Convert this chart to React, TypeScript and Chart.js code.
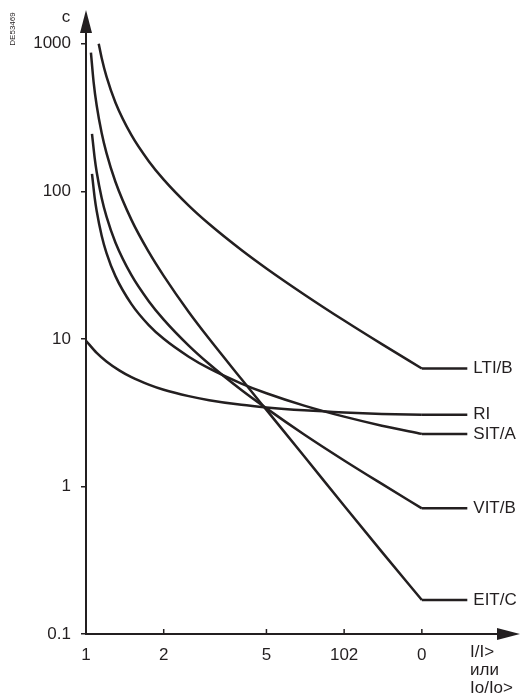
import React, { useEffect, useRef } from "react";
import { Chart, registerables } from "chart.js";

Chart.register(...registerables);

const INK = "#231f20";
const FONT = "'Liberation Sans', Arial, sans-serif";

// Axis ticks
const xTicks = [1, 2, 5, 10, 20];
const xTickLabels = ["1", "2", "5", "102", "0"];
const yTicks = [0.1, 1, 10, 100, 1000];
const yTickLabels = ["0.1", "1", "10", "100", "1000"];
const xMin = 1;
const xMax = 48;
const yMin = 0.1;
const yMax = 1200;

// Curves (I/I> vs time in s)
const curveNames = ["LTI/B", "RI", "SIT/A", "VIT/B", "EIT/C"];

const ltiX = [1.12, 1.15, 1.2, 1.3, 1.5, 1.75, 2, 2.5, 3, 4, 5, 7, 10, 14, 20];
const ltiY = [1000, 800, 600, 400, 240, 160, 120, 80, 60, 40, 30, 20, 13.3, 9.2, 6.3];

const riX = [1, 1.1, 1.2, 1.35, 1.5, 1.75, 2, 2.5, 3, 4, 5, 7, 10, 14, 20];
const riY = [9.71, 8.03, 7.03, 6.09, 5.5, 4.9, 4.52, 4.09, 3.84, 3.57, 3.43, 3.28, 3.17, 3.1, 3.06];

const sitX = [1.055, 1.08, 1.1, 1.15, 1.2, 1.3, 1.5, 1.75, 2, 2.5, 3, 4, 5, 7, 10, 14, 20];
const sitY = [131, 90.9, 73.4, 50, 38.3, 26.6, 17.2, 12.4, 10.0, 7.57, 6.3, 4.98, 4.28, 3.53, 2.97, 2.58, 2.27];

const vitX = [1.055, 1.08, 1.1, 1.15, 1.2, 1.3, 1.5, 1.75, 2, 2.5, 3, 4, 5, 7, 10, 14, 20];
const vitY = [245, 169, 135, 90, 67.5, 45, 27, 18, 13.5, 9, 6.75, 4.5, 3.38, 2.25, 1.5, 1.04, 0.71];

const eitX = [1.045, 1.07, 1.1, 1.15, 1.2, 1.3, 1.5, 1.75, 2, 2.5, 3, 4, 5, 7, 10, 14, 20];
const eitY = [870, 552, 381, 248, 182, 116, 64, 38.8, 26.7, 15.2, 10, 5.34, 3.3, 1.6, 0.74, 0.36, 0.17];

// Flat tails after I/I> = 20
const tailX = [20, 30];

const curveXs = [ltiX, riX, sitX, vitX, eitX];
const curveYs = [ltiY, riY, sitY, vitY, eitY];

const xAxisTitle = ["I/I>", "или", "Io/Io>"];
const yAxisTitle = "c";
const docCode = "DE53469";

const overlay = {
  id: "overlay",
  afterDraw(chart: any) {
    const ctx = chart.ctx;
    const xs = chart.scales.x;
    const ys = chart.scales.y;
    const { left, bottom } = chart.chartArea;
    ctx.save();
    ctx.strokeStyle = INK;
    ctx.fillStyle = INK;
    ctx.lineWidth = 2;
    // y axis
    ctx.beginPath();
    ctx.moveTo(left, bottom + 1);
    ctx.lineTo(left, 28);
    ctx.stroke();
    ctx.beginPath();
    ctx.moveTo(left, 10);
    ctx.lineTo(left - 6, 33);
    ctx.lineTo(left + 6, 33);
    ctx.closePath();
    ctx.fill();
    // x axis
    ctx.beginPath();
    ctx.moveTo(left - 1, bottom);
    ctx.lineTo(502, bottom);
    ctx.stroke();
    ctx.beginPath();
    ctx.moveTo(520, bottom);
    ctx.lineTo(497, bottom - 6);
    ctx.lineTo(497, bottom + 6);
    ctx.closePath();
    ctx.fill();
    // x ticks (inside)
    ctx.lineWidth = 1.5;
    xTicks.slice(1).forEach((v) => {
      const px = xs.getPixelForValue(v);
      ctx.beginPath();
      ctx.moveTo(px, bottom);
      ctx.lineTo(px, bottom - 5);
      ctx.stroke();
    });
    // curve labels
    ctx.font = `17px ${FONT}`;
    ctx.textAlign = "left";
    ctx.textBaseline = "middle";
    curveNames.forEach((name, i) => {
      const ys_ = curveYs[i];
      const px = xs.getPixelForValue(tailX[tailX.length - 1]);
      const py = ys.getPixelForValue(ys_[ys_.length - 1]);
      ctx.fillText(name, px + 6, py);
    });
    // x axis title
    ctx.textBaseline = "middle";
    xAxisTitle.forEach((t, i) => {
      ctx.fillText(t, 470, bottom + 18 + i * 18);
    });
    // y axis title
    ctx.textAlign = "center";
    ctx.fillText(yAxisTitle, 66, 17);
    // doc code
    ctx.save();
    ctx.font = `8px ${FONT}`;
    ctx.translate(13, 29);
    ctx.rotate(-Math.PI / 2);
    ctx.textAlign = "center";
    ctx.textBaseline = "middle";
    ctx.fillText(docCode, 0, 0);
    ctx.restore();
    ctx.restore();
  },
};

export default function App() {
  const ref = useRef<HTMLCanvasElement | null>(null);

  useEffect(() => {
    if (!ref.current) return;
    const datasets: any[] = [];
    curveNames.forEach((name, i) => {
      const cx = curveXs[i];
      const cy = curveYs[i];
      datasets.push({
        label: name,
        data: cx.map((v, j) => ({ x: v, y: cy[j] })),
        borderColor: INK,
        borderWidth: 2.5,
        pointRadius: 0,
        showLine: true,
        fill: false,
        cubicInterpolationMode: "monotone",
      });
      const last = cy[cy.length - 1];
      datasets.push({
        label: name + " tail",
        data: tailX.map((v) => ({ x: v, y: last })),
        borderColor: INK,
        borderWidth: 2.5,
        pointRadius: 0,
        showLine: true,
        fill: false,
        tension: 0,
      });
    });

    const chart = new Chart(ref.current, {
      type: "scatter",
      data: { datasets },
      options: {
        animation: false,
        responsive: false,
        devicePixelRatio: 1,
        layout: { padding: { left: 0, right: 0, top: 32, bottom: 0 } },
        plugins: { legend: { display: false }, tooltip: { enabled: false } },
        scales: {
          x: {
            type: "logarithmic",
            min: xMin,
            max: xMax,
            afterBuildTicks: (s: any) => {
              s.ticks = xTicks.map((v) => ({ value: v }));
            },
            afterFit: (s: any) => {
              s.height = 66;
            },
            grid: { display: false, drawTicks: false },
            border: { display: false },
            ticks: {
              autoSkip: false,
              maxRotation: 0,
              padding: 11,
              color: INK,
              font: { family: FONT, size: 17 },
              callback: (_v: any, i: number) => xTickLabels[i],
            },
          },
          y: {
            type: "logarithmic",
            min: yMin,
            max: yMax,
            afterBuildTicks: (s: any) => {
              s.ticks = yTicks.map((v) => ({ value: v }));
            },
            afterFit: (s: any) => {
              s.width = 86;
            },
            grid: {
              display: true,
              drawOnChartArea: false,
              drawTicks: true,
              tickLength: 5,
              color: INK,
              lineWidth: 1.5,
            },
            border: { display: false },
            ticks: {
              autoSkip: false,
              padding: 10,
              color: INK,
              font: { family: FONT, size: 17 },
              callback: (_v: any, i: number) => yTickLabels[i],
            },
          },
        },
      },
      plugins: [overlay],
    } as any);
    return () => chart.destroy();
  }, []);

  return (
    <div style={{ position: "fixed", left: 0, top: 0, width: 520, height: 700, background: "#fff" }}>
      <canvas ref={ref} width={520} height={700} style={{ width: 520, height: 700, display: "block" }} />
    </div>
  );
}
